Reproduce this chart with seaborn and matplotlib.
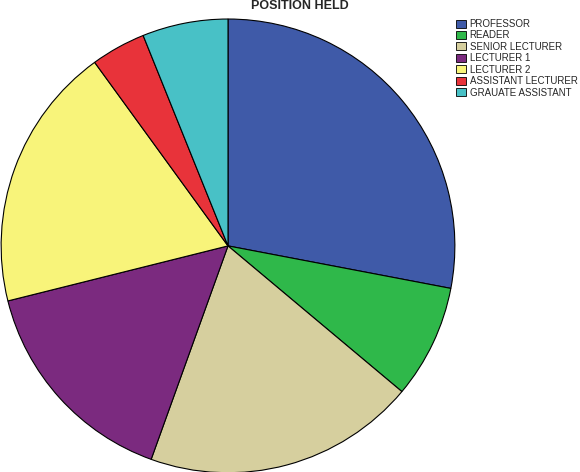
import matplotlib
matplotlib.use("Agg")
import matplotlib.pyplot as plt
import seaborn as sns
from matplotlib.patches import Patch

sns.set_style("white")
plt.rcParams['font.family'] = ['Arial', 'Liberation Sans', 'DejaVu Sans']

categories = ["PROFESSOR", "READER", "SENIOR LECTURER", "LECTURER 1",
              "LECTURER 2", "ASSISTANT LECTURER", "GRAUATE ASSISTANT"]
values = [28.0, 8.1, 19.4, 15.6, 18.9, 3.9, 6.1]
colors = sns.color_palette(["#3f5aa8", "#2fb84a", "#d6cf9e", "#7b2a7f",
                            "#f8f47a", "#e8333a", "#48c1c6"])

fig = plt.figure(figsize=(5.8, 4.72), dpi=100)
ax = fig.add_axes([0.0, -0.004, 456/580, 456/472])
ax.pie(values, colors=colors, startangle=90, counterclock=False,
       wedgeprops=dict(edgecolor="black", linewidth=0.8))
ax.set_xlim(-1.005, 1.005)
ax.set_ylim(-1.005, 1.005)
ax.set_aspect("equal")
ax.axis("off")

fig.text(300/580, 1 - 6/472, "POSITION HELD", ha="center", va="center",
         fontsize=9, fontweight="bold")

handles = [Patch(facecolor=c, edgecolor="black", linewidth=0.6) for c in colors]
fig.legend(handles, categories, loc="upper left", bbox_to_anchor=(452/580, 1 - 15/472),
           frameon=False, fontsize=7, handlelength=1.0, handleheight=0.9,
           handletextpad=0.4, labelspacing=0.15, borderaxespad=0)

fig.savefig("out.png", dpi=100)
